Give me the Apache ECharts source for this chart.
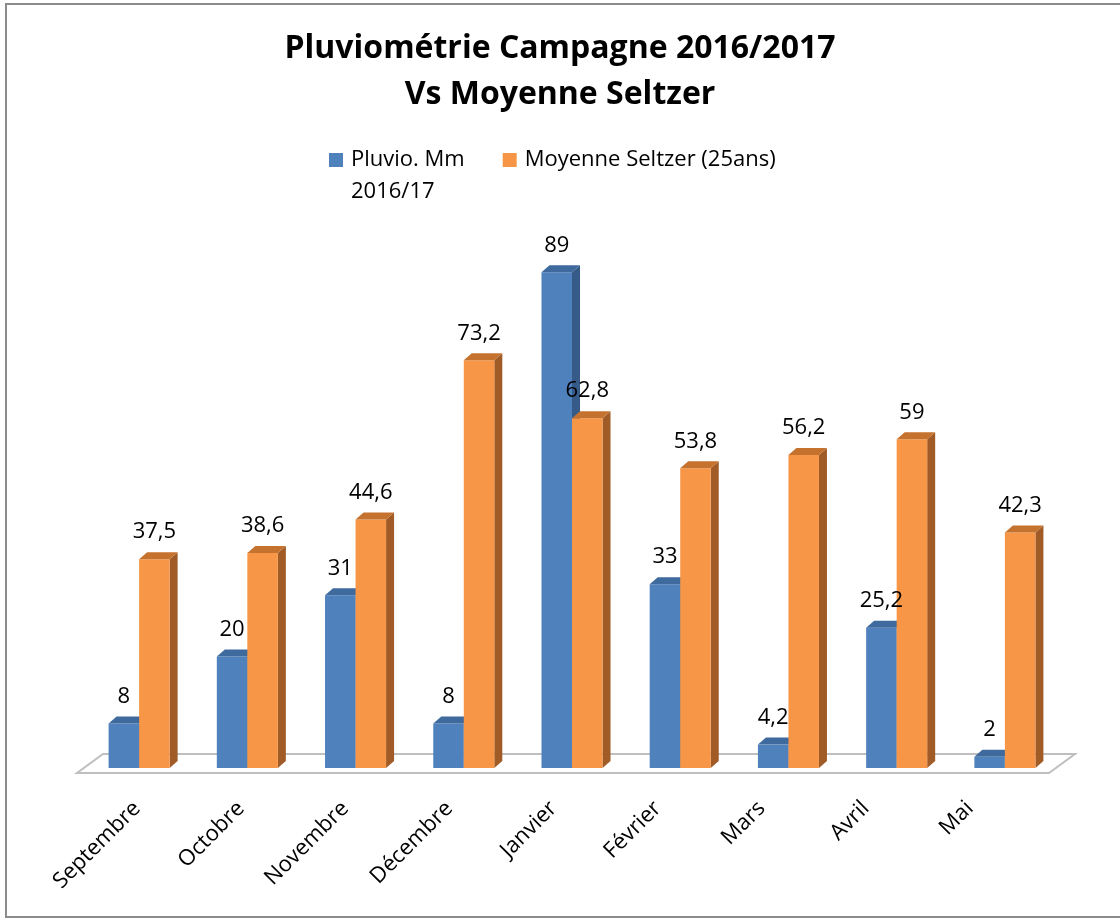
<!DOCTYPE html>
<html><head><meta charset="utf-8">
<script src="https://cdn.jsdelivr.net/npm/echarts@6/dist/echarts.min.js"></script>
<style>html,body{margin:0;padding:0;background:#fff}#c{width:1120px;height:924px}</style>
</head><body><div id="c"></div>
<script>
const categories = ['Septembre','Octobre','Novembre','Décembre','Janvier','Février','Mars','Avril','Mai'];
const pluvio = [8, 20, 31, 8, 89, 33, 4.2, 25.2, 2];
const moyenne = [37.5, 38.6, 44.6, 73.2, 62.8, 53.8, 56.2, 59, 42.3];
const seriesNames = ['Pluvio. Mm\n2016/17', 'Moyenne Seltzer (25ans)'];
const titleLines = ['Pluviométrie Campagne 2016/2017', 'Vs Moyenne Seltzer'];

const FONT = '"Open Sans", "Liberation Sans", sans-serif';
const palette = [
  {front: '#4F81BD', top: '#3E6A9E', side: '#375B89'},
  {front: '#F79646', top: '#C6722F', side: '#A05B27'}
];
const DX = 8, DY = 7;
const fmt = v => String(v).replace('.', ',');

function barGeom(sIdx, api) {
  const idx = api.value(0), v = api.value(1);
  const top = api.coord([idx, v]);
  const base = api.coord([idx, 0]);
  const bw = api.size([1, 0])[0] * 0.282;
  const x0 = sIdx === 0 ? top[0] - bw : top[0];
  return {v, x0, bw, ty: top[1], by: base[1]};
}

function barRenderer(sIdx) {
  return function (params, api) {
    const g = barGeom(sIdx, api);
    const c = palette[sIdx];
    const {x0, bw, ty, by} = g;
    return {
      type: 'group',
      children: [
        {type: 'polygon', shape: {points: [[x0 + bw, ty], [x0 + bw + DX, ty - DY], [x0 + bw + DX, by - DY], [x0 + bw, by]]}, style: {fill: c.side}},
        {type: 'rect', shape: {x: x0, y: ty, width: bw, height: by - ty}, style: {fill: c.front}},
        {type: 'polygon', shape: {points: [[x0, ty], [x0 + DX, ty - DY], [x0 + bw + DX, ty - DY], [x0 + bw, ty]]}, style: {fill: c.top}}
      ]
    };
  };
}

function labelRenderer(sIdx) {
  return function (params, api) {
    const g = barGeom(sIdx, api);
    return {type: 'text', style: {text: fmt(g.v), x: g.x0 + g.bw / 2, y: g.ty - 27, align: 'center', verticalAlign: 'middle', fontSize: 22, fontFamily: FONT, fill: '#000'}};
  };
}

function floorRenderer(params, api) {
  const cs = params.coordSys;
  const y0 = api.coord([0, 0])[1];
  const fl = cs.x - 8, fr = cs.x + cs.width - 10, fy = y0 + 5;
  const ox = 26, oy = -19;
  return {
    type: 'polygon',
    shape: {points: [[fl, fy], [fr, fy], [fr + ox, fy + oy], [fl + ox, fy + oy]]},
    style: {fill: '#fff', stroke: '#BFBFBF', lineWidth: 2}
  };
}

const chart = echarts.init(document.getElementById('c'), null, {renderer: 'canvas'});
chart.setOption({
  backgroundColor: '#fff',
  animation: false,
  title: {
    text: titleLines.join('\n'),
    left: 'center', top: 26, padding: 0,
    textStyle: {fontSize: 32, fontWeight: 'bold', fontFamily: FONT, color: '#000', lineHeight: 46}
  },
  legend: {
    left: 329, top: 112, padding: 0,
    itemWidth: 14, itemHeight: 14, itemGap: 38, icon: 'rect',
    formatter: name => name === seriesNames[0] ? '\n' + name : name,
    textStyle: {fontSize: 22, fontFamily: FONT, color: '#000', lineHeight: 32, padding: [0, 0, 0, 3]},
    data: [seriesNames[0], seriesNames[1]]
  },
  color: [palette[0].front, palette[1].front],
  grid: [
    {left: 85, right: 61, top: 211, bottom: 156},
    {left: 85, right: 98, top: 211, bottom: 156}
  ],
  xAxis: [
    {gridIndex: 0, type: 'category', data: categories, axisLine: {show: false}, axisTick: {show: false}, axisLabel: {show: false}},
    {gridIndex: 1, type: 'category', data: categories, axisLine: {show: false}, axisTick: {show: false},
     axisLabel: {interval: 0, rotate: 45, margin: 37, fontSize: 22, fontFamily: FONT, color: '#000'}}
  ],
  yAxis: [
    {gridIndex: 0, type: 'value', min: 0, max: 100, show: false},
    {gridIndex: 1, type: 'value', min: 0, max: 100, show: false}
  ],
  graphic: [
    {type: 'rect', shape: {x: 6, y: 4, width: 1140, height: 913}, style: {fill: 'none', stroke: '#8C8C8C', lineWidth: 2}, silent: true}
  ],
  series: [
    {name: 'floor', type: 'custom', xAxisIndex: 0, yAxisIndex: 0, data: [[0, 0]], encode: {x: 0, y: 1}, renderItem: floorRenderer, silent: true, z: 1},
    {name: seriesNames[0], type: 'custom', xAxisIndex: 0, yAxisIndex: 0, data: pluvio.map((v, i) => [i, v]), encode: {x: 0, y: 1}, renderItem: barRenderer(0), z: 2, itemStyle: {color: palette[0].front}},
    {name: seriesNames[1], type: 'custom', xAxisIndex: 0, yAxisIndex: 0, data: moyenne.map((v, i) => [i, v]), encode: {x: 0, y: 1}, renderItem: barRenderer(1), z: 3, itemStyle: {color: palette[1].front}},
    {name: 'labels0', type: 'custom', xAxisIndex: 0, yAxisIndex: 0, data: pluvio.map((v, i) => [i, v]), encode: {x: 0, y: 1}, renderItem: labelRenderer(0), z: 10, silent: true},
    {name: 'labels1', type: 'custom', xAxisIndex: 0, yAxisIndex: 0, data: moyenne.map((v, i) => [i, v]), encode: {x: 0, y: 1}, renderItem: labelRenderer(1), z: 10, silent: true}
  ]
});
</script>
</body></html>
